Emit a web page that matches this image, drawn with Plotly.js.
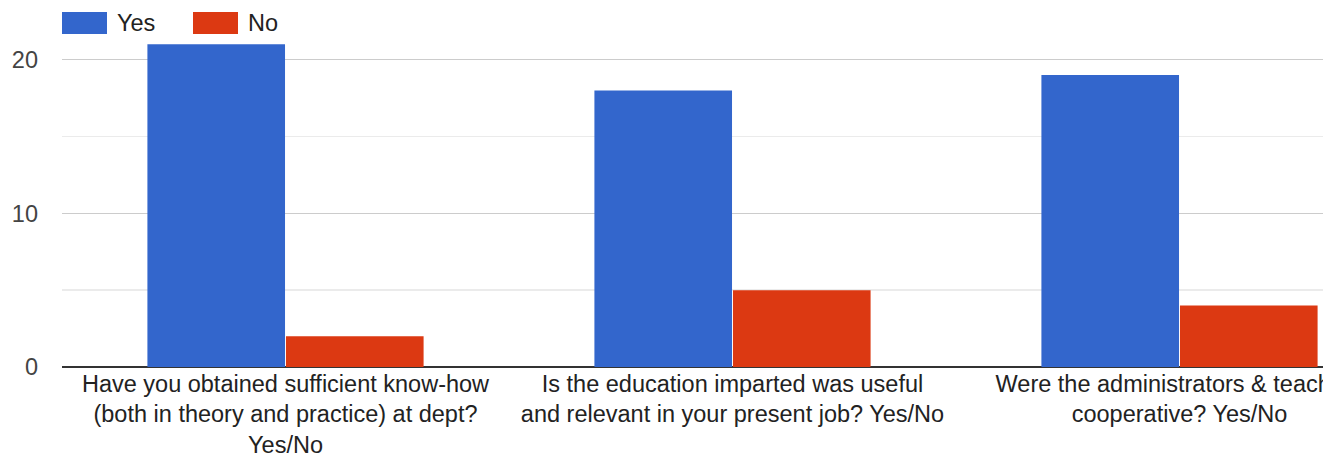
<!DOCTYPE html>
<html>
<head>
<meta charset="utf-8">
<script src="https://cdn.plot.ly/plotly-3.0.1.min.js"></script>
<style>
  html, body { margin: 0; padding: 0; background: #fff; overflow: hidden; }
  #clip { width: 1323px; height: 457px; overflow: hidden; position: relative; }
  #chart { width: 1420px; height: 457px; }
</style>
</head>
<body>
<div id="clip"><div id="chart"></div></div>
<script>
// ---- data ----
const categories = [
  "Have you obtained sufficient know-how<br>(both in theory and practice) at dept?<br>Yes/No",
  "Is the education imparted was useful<br>and relevant in your present job? Yes/No",
  "Were the administrators & teachers<br>cooperative? Yes/No"
];
const seriesNames = ["Yes", "No"];
const yesValues = [21, 18, 19];
const noValues = [2, 5, 4];
const yTickValues = [0, 10, 20];
const colors = ["#3366cc", "#dc3912"];

// ---- layout geometry ----
const W = 1420, H = 457;
const M = { l: 62, r: 17, t: 29, b: 90 };
const plotW = W - M.l - M.r, plotH = H - M.t - M.b;
const pxX = px => (px - M.l) / plotW;
const pxY = py => 1 - (py - M.t) / plotH;

const font = '"Liberation Sans", Arial, sans-serif';
const FS = 23.5;

const traces = [yesValues, noValues].map((vals, i) => ({
  type: "bar",
  name: seriesNames[i],
  x: categories,
  y: vals,
  marker: { color: colors[i] },
  hoverinfo: "skip"
}));

// custom legend (wide colour swatches like the reference)
const legendSwatchX = [62, 193];
const shapes = [], annotations = [];
seriesNames.forEach((n, i) => {
  const x0 = legendSwatchX[i];
  shapes.push({
    type: "rect", xref: "paper", yref: "paper",
    x0: pxX(x0), x1: pxX(x0 + 45), y0: pxY(34), y1: pxY(12),
    fillcolor: colors[i], line: { width: 0 }
  });
  annotations.push({
    xref: "paper", yref: "paper", x: pxX(x0 + 53), y: pxY(23),
    xanchor: "left", yanchor: "middle", showarrow: false,
    text: n, font: { family: font, size: FS, color: "#222" }
  });
});

const layout = {
  width: W, height: H,
  margin: M,
  paper_bgcolor: "#fff", plot_bgcolor: "#fff",
  showlegend: false,
  barmode: "group",
  bargap: 0.38,
  bargroupgap: 0.007,
  font: { family: font, size: FS, color: "#222" },
  xaxis: {
    type: "category",
    range: [-0.5, 2.5],
    showgrid: false, showline: false, zeroline: false,
    ticks: "",
    tickfont: { family: font, size: FS, color: "#222" },
    automargin: false
  },
  yaxis: {
    range: [0, 22],
    tickvals: yTickValues,
    ticktext: yTickValues.map(String),
    showgrid: true, gridcolor: "#cccccc", gridwidth: 1.5,
    minor: { tickvals: [5, 15], showgrid: true, gridcolor: "#ebebeb", gridwidth: 1.5, ticks: "" },
    zeroline: true, zerolinecolor: "#333333", zerolinewidth: 2,
    showline: false, ticks: "",
    ticklabelstandoff: 23,
    tickfont: { family: font, size: FS, color: "#444" },
    automargin: false,
    fixedrange: true
  },
  shapes: shapes,
  annotations: annotations
};

Plotly.newPlot("chart", traces, layout, { displayModeBar: false, staticPlot: true });
</script>
</body>
</html>
